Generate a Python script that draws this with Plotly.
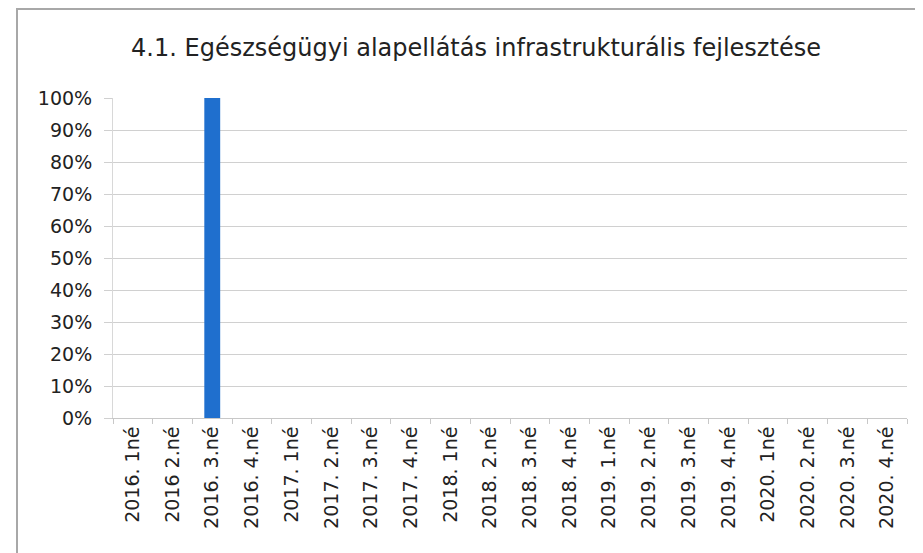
import plotly.graph_objects as go

categories = ["2016. 1né", "2016 2.né", "2016. 3.né", "2016. 4.né",
              "2017. 1né", "2017. 2.né", "2017. 3.né", "2017. 4.né",
              "2018. 1né", "2018. 2.né", "2018. 3.né", "2018. 4.né",
              "2019. 1.né", "2019. 2.né", "2019. 3.né", "2019. 4.né",
              "2020. 1né", "2020. 2.né", "2020. 3.né", "2020. 4.né"]
values = [0, 0, 1.0, 0, 0, 0, 0, 0, 0, 0, 0, 0, 0, 0, 0, 0, 0, 0, 0, 0]
title_text = "4.1. Egészségügyi alapellátás infrastrukturális fejlesztése"

FONT = "'DejaVu Sans', sans-serif"
OFF = 8  # page body margin offset

fig = go.Figure()
fig.add_trace(go.Bar(x=categories, y=values, marker_color="#1f6fce",
                     marker_line_width=0, width=0.4))

W, H = 923 - OFF, 553 - OFF
L, T = 113 - OFF, 98 - OFF
R = W - (907 - OFF)
B = H - (418 - OFF)
pw, ph = W - L - R, H - T - B

fig.update_layout(
    width=W, height=H,
    margin=dict(l=L, r=R, t=T, b=B, autoexpand=False),
    paper_bgcolor="white", plot_bgcolor="white",
    showlegend=False,
    title=dict(text=title_text, x=(476 - OFF) / W, xanchor="center",
               y=1 - (48 - OFF) / H, yanchor="middle",
               font=dict(family=FONT, size=24, color="#222222")),
    font=dict(family=FONT, color="#222222"),
)
fig.update_xaxes(type="category", tickangle=-90, tickfont=dict(size=19, color="#222222"),
                 showline=True, linecolor="#c8c8c8", linewidth=1,
                 ticks="outside", tickson="boundaries", ticklen=5, tickcolor="#c8c8c8",
                 showgrid=False, range=[-0.5, 19.5])
fig.update_yaxes(range=[0, 1], tickformat=".0%", dtick=0.1,
                 tickfont=dict(size=19, color="#222222"),
                 showgrid=True, gridcolor="#d0d0d0", gridwidth=1,
                 ticks="outside", ticklen=8, tickcolor="#d0d0d0", ticklabelstandoff=8,
                 showline=True, linecolor="#d8d8d8", zeroline=False)

fig.add_shape(type="rect", xref="paper", yref="paper",
              x0=(17 - 113) / pw, x1=(W + 5 - L) / pw,
              y0=-(H + 5 - T - ph) / ph, y1=(ph + (98 - 9)) / ph,
              line=dict(color="#a8a8a8", width=2), fillcolor="rgba(0,0,0,0)", layer="below")

fig.write_html("out.html")
